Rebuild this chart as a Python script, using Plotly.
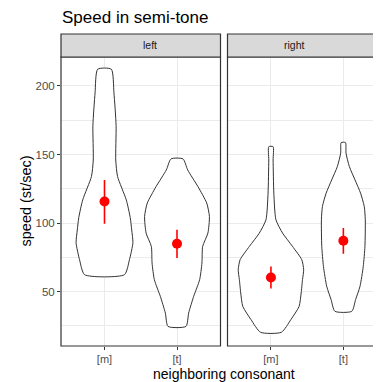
import plotly.graph_objects as go

# ---- data ----
categories = ["[m]", "[t]"]
facets = ["left", "right"]

# violin outlines: speed levels (bottom -> top) and half-widths (x units)
left_m_speed = [62.4, 73.3, 85.7, 95.0, 104.0, 117.0, 134.0, 146.0, 171.0, 195.0, 212.2]
left_m_width = [0.275, 0.344, 0.392, 0.375, 0.355, 0.30, 0.18, 0.155, 0.16, 0.13, 0.094]

left_t_speed = [24.7, 34.5, 46.6, 58.7, 70.9, 83.0, 92.7, 104.8, 114.6, 126.6, 138.8, 146.8]
left_t_width = [0.124, 0.161, 0.23, 0.312, 0.344, 0.354, 0.426, 0.447, 0.41, 0.289, 0.147, 0.083]

right_m_speed = [20.4, 29.6, 39.3, 49.0, 58.8, 66.0, 73.3, 83.0, 92.7, 102.4, 121.8, 146.0, 155.7]
right_m_width = [0.144, 0.275, 0.389, 0.417, 0.436, 0.452, 0.426, 0.298, 0.161, 0.069, 0.04, 0.03, 0.03]

right_t_speed = [35.7, 44.2, 53.9, 68.4, 83.0, 102.4, 112.1, 121.8, 131.5, 141.2, 151.0, 158.7]
right_t_width = [0.117, 0.169, 0.23, 0.275, 0.298, 0.303, 0.289, 0.238, 0.161, 0.083, 0.037, 0.03]

# summary points (mean and interval)
left_mean = [115.7, 84.9]
left_low = [99.5, 74.5]
left_high = [131.5, 95.1]
right_mean = [60.4, 87.1]
right_low = [52.4, 77.7]
right_high = [68.4, 96.4]

y_ticks = [50, 100, 150, 200]

FONT = "Liberation Sans, Arial, sans-serif"
fig = go.Figure()


def add_violin(center, speeds, widths, xa, ya):
    xs = [center + w for w in widths] + [center - w for w in reversed(widths)]
    ys = list(speeds) + list(reversed(speeds))
    xs.append(xs[0])
    ys.append(ys[0])
    fig.add_trace(go.Scatter(
        x=xs, y=ys, mode="lines", fill="toself", fillcolor="white",
        line=dict(color="#333333", width=1, shape="spline", smoothing=0.6),
        xaxis=xa, yaxis=ya, showlegend=False, hoverinfo="skip"))


add_violin(1, left_m_speed, left_m_width, "x", "y")
add_violin(2, left_t_speed, left_t_width, "x", "y")
add_violin(1, right_m_speed, right_m_width, "x2", "y2")
add_violin(2, right_t_speed, right_t_width, "x2", "y2")

for mean, low, high, xa, ya in [(left_mean, left_low, left_high, "x", "y"),
                                (right_mean, right_low, right_high, "x2", "y2")]:
    fig.add_trace(go.Scatter(
        x=[1, 2], y=mean, mode="markers",
        marker=dict(color="red", size=10),
        error_y=dict(type="data", symmetric=False,
                     array=[h - m for h, m in zip(high, mean)],
                     arrayminus=[m - l for m, l in zip(mean, low)],
                     color="red", thickness=1.6, width=0),
        xaxis=xa, yaxis=ya, showlegend=False, hoverinfo="skip"))

grid = "#EBEBEB"
ytickfont = dict(family=FONT, size=11.5, color="#4D4D4D")
xtickfont = dict(family=FONT, size=11, color="#4D4D4D")
xcommon = dict(tickmode="array", tickvals=[1, 2], ticktext=categories,
               showgrid=True, gridcolor=grid, gridwidth=1, zeroline=False,
               ticks="outside", ticklen=3, tickcolor="#333333", tickwidth=1,
               tickfont=xtickfont, showline=False, automargin=False)
ycommon = dict(range=[10.4, 221.1], tickmode="array", tickvals=y_ticks,
               showgrid=True, gridcolor=grid, gridwidth=1, zeroline=False,
               minor=dict(tickmode="array", tickvals=[25, 75, 125, 175, 225],
                          showgrid=True, gridcolor=grid, gridwidth=0.5),
               showline=False, automargin=False)

# page has an 8px body margin: figure is placed at (8, 8)
d1 = (220.5 - 61) / 320
d2 = (227.5 - 61) / 320
fig.update_layout(
    template="none",
    width=373, height=374,
    margin=dict(l=53, r=0, t=49, b=36, pad=0, autoexpand=False),
    plot_bgcolor="white", paper_bgcolor="white",
    xaxis=dict(domain=[0, d1], range=[0.4, 2.6], **xcommon),
    xaxis2=dict(domain=[d2, 1], range=[0.4, 2.52], anchor="y2", **xcommon),
    yaxis=dict(anchor="x", ticks="outside", ticklen=3, tickcolor="#333333",
               tickwidth=1, tickfont=ytickfont, **ycommon),
    yaxis2=dict(anchor="x2", matches="y", showticklabels=False, ticks="", **ycommon),
    font=dict(family=FONT),
)

strip_h = 23 / 289
# panel borders and strips
for x0, x1 in [(0, d1), (d2, 1.02)]:
    fig.add_shape(type="rect", xref="paper", yref="paper", x0=x0, x1=x1, y0=0, y1=1,
                  line=dict(color="#333333", width=1.2), fillcolor="rgba(0,0,0,0)", layer="above")
    fig.add_shape(type="rect", xref="paper", yref="paper", x0=x0, x1=x1, y0=1, y1=1 + strip_h,
                  line=dict(color="#333333", width=1.2), fillcolor="#D9D9D9", layer="above")

fig.add_annotation(text=facets[0], xref="paper", yref="paper", x=d1 / 2, y=1 + strip_h / 2,
                   yanchor="middle", showarrow=False,
                   font=dict(family=FONT, size=10.5, color="#1A1A1A"))
fig.add_annotation(text=facets[1], xref="paper", yref="paper", x=(d2 + (387 - 61) / 320) / 2,
                   y=1 + strip_h / 2, yanchor="middle", showarrow=False,
                   font=dict(family=FONT, size=10.5, color="#1A1A1A"))

fig.add_annotation(text="Speed in semi-tone", xref="paper", yref="paper", x=-0.003, xanchor="left",
                   y=1 + (57 - 17.5) / 289, yanchor="middle", showarrow=False,
                   font=dict(family=FONT, size=17, color="black"))
fig.add_annotation(text="neighboring consonant", xref="paper", yref="paper",
                   x=(224 - 61) / 320, y=-(373.5 - 346) / 289, yanchor="middle", showarrow=False,
                   font=dict(family=FONT, size=14, color="black"))
fig.add_annotation(text="speed (st/sec)", xref="paper", yref="paper",
                   x=-(61 - 25) / 320, y=0.5, xanchor="center", textangle=-90, showarrow=False,
                   font=dict(family=FONT, size=14.5, color="black"))

fig.write_html("out.html")
